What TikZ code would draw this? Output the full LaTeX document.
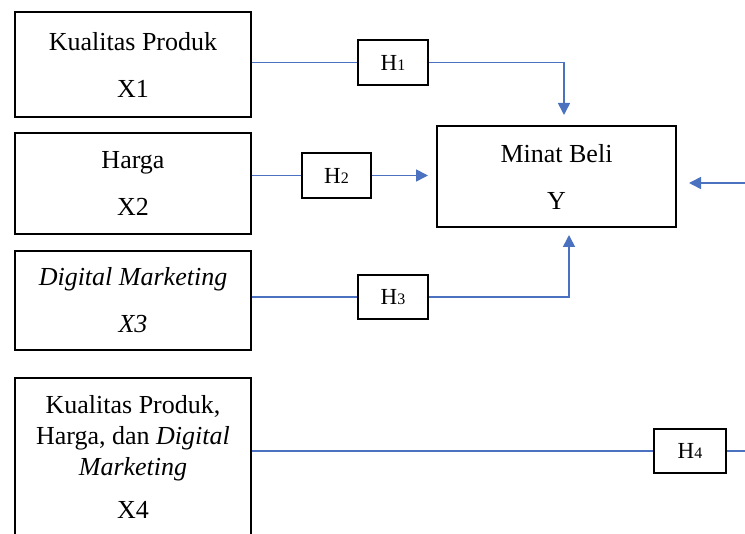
\documentclass[tikz,border=0pt]{standalone}
\usepackage{fontspec}
\setmainfont{Liberation Serif}
\usetikzlibrary{arrows.meta}
\definecolor{lnblue}{HTML}{4A72C0}
\begin{document}
\begin{tikzpicture}[x=1pt,y=-1pt,
  bigbox/.style={draw=black,line width=2pt,rectangle,inner sep=0pt,align=center,
    font=\fontsize{26}{47}\selectfont},
  hbox/.style={draw=black,line width=1.8pt,rectangle,inner sep=0pt,
    font=\fontsize{23}{23}\selectfont},
  conn/.style={draw=lnblue,line width=1.6pt},
  arr/.style={conn,-{Triangle[length=12pt,width=12pt]}}]
\useasboundingbox (0,0) rectangle (745,534);
\clip (0,0) rectangle (745,534);
\node[bigbox,minimum width=236pt,minimum height=105pt] (b1) at (133,64.5) {Kualitas Produk\\X1};
\node[bigbox,minimum width=236pt,minimum height=101pt] (b2) at (133,183.5) {Harga\\X2};
\node[bigbox,minimum width=236pt,minimum height=99pt] (b3) at (133,300.5) {\itshape Digital Marketing\\\itshape X3};
\node[bigbox,minimum width=236pt,minimum height=158pt,font=\fontsize{26}{31}\selectfont,anchor=north] (b4) at (133,377)
  {Kualitas Produk,\\Harga, dan \textit{Digital}\\\textit{Marketing}\\[12pt]X4};
\draw[line width=2pt] (b4.south west) -- ++(0,20) (b4.south east) -- ++(0,20);
\node[bigbox,minimum width=239pt,minimum height=101pt] (m) at (556.5,176.5) {Minat Beli\\Y};
\node[hbox,minimum width=70pt,minimum height=45pt] (h1) at (393,62.5) {H{\fontsize{16}{16}\selectfont 1}};
\node[hbox,minimum width=69pt,minimum height=45pt] (h2) at (336.5,175.5) {H{\fontsize{16}{16}\selectfont 2}};
\node[hbox,minimum width=70pt,minimum height=44pt] (h3) at (393,297) {H{\fontsize{16}{16}\selectfont 3}};
\node[hbox,minimum width=72pt,minimum height=44pt] (h4) at (690,451) {H{\fontsize{16}{16}\selectfont 4}};
\coordinate (r4) at (748,451);
\coordinate (ry) at (748,183);
\coordinate (mt) at (564,126);
\coordinate (mb) at (569,227);
% connectors
\draw[conn] (h1.west -| b1.east) -- (h1.west);
\draw[arr,shorten >=11pt] (h1.east) -| (mt);
\draw[conn] (h2.west -| b2.east) -- (h2.west);
\draw[arr,shorten >=8pt] (h2.east) -- (h2.east -| m.west);
\draw[conn] (h3.west -| b3.east) -- (h3.west);
\draw[arr,shorten >=8pt] (h3.east) -| (mb);
\draw[conn] (h4.west -| b4.east) -- (h4.west);
\draw[conn] (h4.east) -- (r4);
\draw[arr,shorten >=12pt] (ry) -- (ry -| m.east);
\end{tikzpicture}
\end{document}
